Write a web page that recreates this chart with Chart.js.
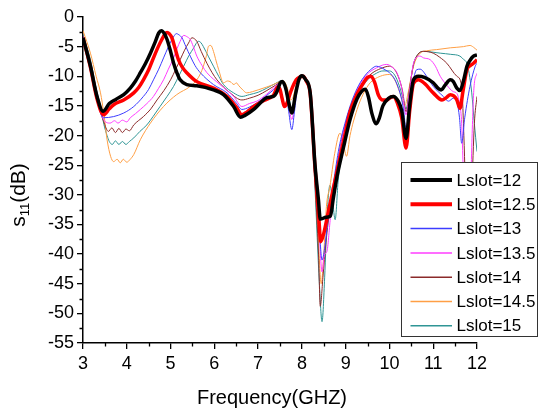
<!DOCTYPE html>
<html>
<head>
<meta charset="utf-8">
<script src="https://cdn.jsdelivr.net/npm/chart.js@4.4.1/dist/chart.umd.min.js"></script>
<style>
  html, body { margin: 0; padding: 0; background: #ffffff; }
  #wrap { width: 539px; height: 413px; }
</style>
</head>
<body>
<div id="wrap"><canvas id="c" width="539" height="413"></canvas></div>
<script>
// Return loss s11 (dB) versus frequency (GHz) for several slot lengths.
const seriesLabels = ['Lslot=12', 'Lslot=12.5', 'Lslot=13', 'Lslot=13.5', 'Lslot=14', 'Lslot=14.5', 'Lslot=15'];

// [frequency GHz, s11 dB]
const lslot12 = [[3.0,-3.5],[3.17,-8.3],[3.32,-13.4],[3.46,-15.9],[3.6,-14.6],[3.75,-13.9],[3.93,-13.1],[4.08,-12.0],[4.2,-10.8],[4.31,-9.4],[4.43,-7.8],[4.54,-6.1],[4.65,-4.2],[4.73,-2.7],[4.79,-2.3],[4.86,-2.8],[4.92,-3.8],[5.0,-5.8],[5.07,-7.8],[5.15,-9.5],[5.22,-10.6],[5.37,-11.4],[5.6,-11.6],[5.98,-12.3],[6.21,-13.1],[6.44,-15.1],[6.6,-16.9],[6.7,-16.6],[6.9,-15.6],[7.05,-14.5],[7.2,-13.6],[7.35,-13.4],[7.43,-12.6],[7.5,-11.2],[7.55,-10.9],[7.63,-12.0],[7.7,-14.5],[7.77,-16.2],[7.85,-13.2],[7.93,-10.6],[8.0,-9.9],[8.08,-10.5],[8.19,-12.8],[8.3,-25.0],[8.38,-31.0],[8.42,-34.1],[8.55,-33.8],[8.65,-33.6],[8.72,-30.5],[8.8,-27.0],[8.95,-22.0],[9.1,-17.3],[9.26,-13.8],[9.37,-12.5],[9.45,-12.2],[9.52,-13.5],[9.6,-16.3],[9.7,-18.0],[9.77,-17.0],[9.85,-15.0],[9.98,-13.7],[10.09,-13.4],[10.2,-14.2],[10.28,-15.8],[10.38,-20.5],[10.46,-15.0],[10.55,-10.6],[10.66,-10.0],[10.8,-10.2],[11.0,-11.1],[11.12,-12.1],[11.18,-12.3],[11.28,-11.4],[11.39,-10.6],[11.46,-10.9],[11.54,-12.0],[11.61,-12.4],[11.7,-10.5],[11.77,-8.3],[11.85,-7.2],[11.92,-6.6],[12.0,-6.4]];

const lslot12_5 = [[3.0,-3.5],[3.17,-8.5],[3.32,-13.8],[3.47,-16.5],[3.6,-15.5],[3.7,-14.8],[3.93,-14.0],[4.16,-12.8],[4.28,-11.8],[4.38,-10.6],[4.5,-8.9],[4.61,-6.9],[4.72,-5.0],[4.8,-3.8],[4.87,-2.9],[4.92,-2.6],[4.97,-2.8],[5.03,-3.5],[5.1,-5.2],[5.18,-7.2],[5.27,-8.5],[5.37,-9.4],[5.6,-10.9],[5.98,-12.0],[6.29,-13.4],[6.5,-15.2],[6.63,-16.5],[6.75,-16.0],[6.9,-15.1],[7.1,-14.2],[7.35,-13.2],[7.45,-11.8],[7.5,-12.2],[7.55,-13.8],[7.6,-15.1],[7.66,-14.5],[7.75,-12.5],[7.87,-10.6],[7.96,-10.1],[8.03,-10.0],[8.1,-10.8],[8.19,-13.0],[8.3,-25.5],[8.38,-33.0],[8.43,-37.9],[8.5,-36.5],[8.6,-33.0],[8.76,-27.5],[8.95,-21.0],[9.1,-16.0],[9.26,-13.0],[9.4,-11.2],[9.5,-10.2],[9.58,-10.0],[9.66,-11.0],[9.75,-13.2],[9.85,-14.0],[9.94,-14.0],[10.02,-13.6],[10.09,-13.4],[10.18,-14.5],[10.28,-17.0],[10.38,-22.1],[10.46,-16.0],[10.55,-11.2],[10.66,-10.6],[10.8,-11.2],[11.0,-12.8],[11.2,-14.0],[11.3,-13.6],[11.39,-13.1],[11.47,-13.3],[11.54,-14.0],[11.61,-15.4],[11.68,-12.5],[11.77,-8.9],[11.85,-8.2],[11.92,-7.8],[12.0,-7.2]];

const lslot13 = [[3.0,-3.4],[3.17,-8.6],[3.32,-14.0],[3.47,-17.0],[3.7,-16.8],[3.93,-16.2],[4.16,-15.1],[4.38,-13.4],[4.5,-12.2],[4.61,-10.6],[4.73,-8.8],[4.84,-6.9],[4.94,-5.2],[5.03,-3.8],[5.09,-3.1],[5.13,-2.8],[5.19,-3.0],[5.26,-3.5],[5.35,-5.0],[5.45,-6.6],[5.56,-8.2],[5.68,-9.4],[5.98,-11.4],[6.29,-12.8],[6.5,-14.5],[6.63,-15.6],[6.8,-15.2],[6.97,-14.5],[7.2,-13.2],[7.35,-12.3],[7.5,-11.1],[7.56,-11.0],[7.63,-12.5],[7.7,-16.0],[7.77,-19.0],[7.83,-16.0],[7.9,-11.8],[7.96,-10.4],[8.03,-10.0],[8.1,-10.7],[8.19,-13.0],[8.3,-26.0],[8.4,-36.0],[8.46,-41.0],[8.52,-39.0],[8.6,-34.0],[8.72,-28.0],[8.85,-22.0],[9.0,-17.5],[9.15,-14.0],[9.3,-11.5],[9.45,-9.8],[9.6,-8.7],[9.7,-8.3],[9.8,-8.5],[9.9,-8.9],[10.0,-9.4],[10.12,-10.5],[10.24,-12.8],[10.32,-15.5],[10.38,-19.0],[10.46,-14.5],[10.55,-10.5],[10.62,-8.9],[10.7,-8.8],[10.85,-10.0],[11.0,-11.7],[11.23,-13.4],[11.35,-14.2],[11.46,-13.7],[11.54,-14.3],[11.6,-17.0],[11.65,-21.3],[11.72,-17.0],[11.84,-11.7],[11.96,-8.3],[12.0,-7.8]];

const lslot13_5 = [[3.0,-3.3],[3.17,-8.6],[3.32,-14.2],[3.47,-17.3],[3.62,-17.9],[3.72,-17.5],[3.8,-17.9],[3.9,-17.4],[4.0,-17.7],[4.08,-17.0],[4.2,-16.3],[4.31,-15.6],[4.46,-14.6],[4.61,-13.4],[4.72,-12.1],[4.84,-10.6],[4.95,-8.8],[5.07,-6.9],[5.15,-5.3],[5.22,-4.1],[5.3,-3.1],[5.37,-3.3],[5.45,-3.8],[5.52,-5.0],[5.6,-6.6],[5.72,-8.2],[5.83,-9.4],[6.13,-11.4],[6.44,-13.4],[6.63,-15.1],[6.8,-14.6],[6.97,-14.2],[7.2,-13.0],[7.35,-12.0],[7.5,-11.0],[7.56,-10.8],[7.63,-12.0],[7.7,-15.0],[7.77,-17.3],[7.84,-14.5],[7.92,-11.0],[8.0,-10.1],[8.08,-10.6],[8.19,-13.0],[8.3,-26.5],[8.4,-37.0],[8.46,-43.0],[8.52,-40.0],[8.57,-39.6],[8.65,-34.0],[8.75,-28.0],[8.88,-22.0],[9.0,-18.0],[9.15,-14.3],[9.3,-11.7],[9.5,-9.6],[9.7,-8.6],[9.85,-8.1],[9.94,-8.0],[10.05,-8.4],[10.17,-9.4],[10.28,-12.0],[10.38,-16.5],[10.46,-12.5],[10.55,-7.8],[10.7,-6.6],[10.78,-6.9],[10.93,-7.2],[11.05,-8.3],[11.16,-10.0],[11.31,-11.5],[11.46,-12.6],[11.54,-12.9],[11.61,-15.0],[11.65,-18.0],[11.7,-30.0],[11.76,-48.0],[11.82,-40.0],[11.88,-22.0],[11.93,-12.0],[12.0,-9.5]];

const lslot14 = [[3.0,-3.2],[3.17,-8.0],[3.32,-14.0],[3.47,-17.6],[3.58,-19.3],[3.66,-18.7],[3.74,-19.5],[3.82,-18.8],[3.9,-19.5],[3.98,-18.9],[4.06,-19.2],[4.16,-18.2],[4.38,-16.8],[4.55,-15.5],[4.69,-14.0],[4.85,-12.4],[5.0,-10.6],[5.12,-8.8],[5.22,-7.2],[5.32,-5.6],[5.41,-4.4],[5.49,-3.5],[5.55,-3.7],[5.6,-4.1],[5.7,-5.8],[5.83,-7.8],[5.95,-9.4],[6.06,-10.6],[6.36,-12.8],[6.63,-14.0],[6.8,-13.7],[7.0,-13.2],[7.2,-12.4],[7.4,-11.5],[7.55,-10.8],[7.63,-11.8],[7.7,-14.0],[7.77,-16.3],[7.84,-14.0],[7.92,-10.9],[8.0,-10.1],[8.08,-10.6],[8.19,-13.2],[8.3,-28.0],[8.38,-40.0],[8.42,-48.8],[8.48,-44.0],[8.55,-38.0],[8.65,-32.0],[8.78,-26.0],[8.9,-21.0],[9.05,-16.5],[9.2,-13.5],[9.4,-11.0],[9.6,-9.5],[9.8,-8.7],[10.0,-8.3],[10.1,-8.7],[10.2,-10.0],[10.3,-12.5],[10.38,-16.0],[10.46,-12.0],[10.55,-8.0],[10.65,-6.3],[10.78,-5.8],[11.0,-6.1],[11.15,-6.8],[11.31,-7.8],[11.54,-10.0],[11.65,-11.7],[11.7,-20.0],[11.76,-35.0],[11.82,-45.0],[11.88,-30.0],[11.94,-18.0],[12.0,-13.4]];

const lslot14_5 = [[3.0,-2.3],[3.17,-6.1],[3.3,-10.0],[3.4,-12.8],[3.48,-16.5],[3.55,-20.7],[3.63,-23.5],[3.7,-24.4],[3.78,-24.0],[3.85,-24.6],[3.92,-24.0],[4.0,-24.5],[4.08,-24.0],[4.16,-23.2],[4.31,-20.7],[4.54,-17.9],[4.84,-15.1],[5.14,-13.1],[5.45,-11.7],[5.6,-10.6],[5.68,-9.6],[5.75,-8.3],[5.82,-6.5],[5.87,-4.9],[5.92,-4.8],[5.98,-5.8],[6.04,-7.4],[6.1,-8.9],[6.21,-11.1],[6.3,-10.8],[6.36,-10.9],[6.45,-11.4],[6.5,-11.1],[6.56,-11.6],[6.65,-12.3],[6.74,-12.8],[6.87,-12.6],[7.0,-12.3],[7.2,-11.8],[7.35,-11.4],[7.5,-10.9],[7.58,-10.8],[7.66,-11.8],[7.74,-14.0],[7.8,-13.5],[7.88,-11.2],[7.96,-10.3],[8.03,-10.2],[8.1,-11.0],[8.2,-14.0],[8.3,-27.0],[8.38,-38.0],[8.44,-45.0],[8.5,-40.0],[8.56,-32.0],[8.64,-28.6],[8.75,-23.0],[8.87,-19.6],[8.95,-21.5],[9.02,-23.5],[9.1,-20.0],[9.26,-15.6],[9.4,-13.0],[9.56,-11.1],[9.79,-10.0],[10.0,-9.7],[10.12,-10.6],[10.24,-12.8],[10.35,-15.0],[10.42,-13.0],[10.55,-8.3],[10.7,-6.1],[10.85,-5.7],[11.08,-5.5],[11.39,-5.2],[11.69,-5.0],[11.84,-4.8],[11.92,-5.1],[12.0,-5.6]];

const lslot15 = [[3.0,-3.0],[3.17,-7.2],[3.3,-12.0],[3.4,-15.1],[3.48,-18.2],[3.55,-20.0],[3.6,-21.0],[3.67,-21.5],[3.74,-20.9],[3.82,-21.5],[3.9,-21.0],[3.98,-21.5],[4.06,-21.0],[4.16,-20.4],[4.3,-19.3],[4.46,-18.2],[4.6,-16.8],[4.76,-15.1],[4.92,-13.4],[5.07,-11.7],[5.2,-9.8],[5.3,-8.3],[5.42,-6.5],[5.53,-5.2],[5.6,-4.3],[5.64,-4.1],[5.69,-4.3],[5.75,-5.0],[5.86,-6.6],[5.98,-8.3],[6.1,-10.0],[6.21,-11.4],[6.44,-12.8],[6.63,-13.4],[6.8,-13.1],[7.0,-12.7],[7.2,-12.0],[7.4,-11.2],[7.55,-10.7],[7.63,-11.5],[7.7,-13.5],[7.77,-15.5],[7.84,-13.5],[7.92,-10.8],[8.0,-10.1],[8.08,-10.6],[8.19,-13.3],[8.3,-29.0],[8.4,-45.0],[8.46,-51.4],[8.52,-44.0],[8.58,-33.0],[8.64,-28.4],[8.7,-31.0],[8.76,-34.2],[8.83,-27.5],[8.95,-21.5],[9.1,-16.5],[9.3,-12.8],[9.5,-10.6],[9.7,-9.5],[9.85,-9.1],[10.0,-9.1],[10.12,-9.8],[10.22,-11.5],[10.3,-13.5],[10.38,-15.5],[10.46,-12.0],[10.55,-8.0],[10.65,-6.3],[10.78,-5.8],[11.16,-6.1],[11.4,-6.3],[11.61,-6.6],[11.7,-7.2],[11.77,-7.8],[11.82,-9.5],[11.88,-12.8],[11.94,-18.0],[12.0,-22.7]];

const seriesData = [lslot12, lslot12_5, lslot13, lslot13_5, lslot14, lslot14_5, lslot15];
const seriesColors = ['#000000', '#ff0000', '#3c3cff', '#ff3cff', '#8b2a2a', '#ff9f45', '#2f9595'];
const seriesWidths = [3.5, 3.5, 1, 1, 1, 1, 1];

const xTickValues = [3, 4, 5, 6, 7, 8, 9, 10, 11, 12];
const yTickValues = [0, -5, -10, -15, -20, -25, -30, -35, -40, -45, -50, -55];

const xTitle = 'Frequency(GHZ)';

const FONT = '"Liberation Sans", Arial, sans-serif';

// Minor ticks, axis titles and the boxed legend
const decorations = {
  id: 'decorations',
  afterDraw(chart) {
    const ctx = chart.ctx;
    const xs = chart.scales.x, ys = chart.scales.y;
    const area = chart.chartArea;
    ctx.save();
    ctx.strokeStyle = '#000';
    ctx.lineWidth = 1.3;
    ctx.beginPath();
    for (let v = 3.5; v < 12; v += 1) {
      const px = Math.round(xs.getPixelForValue(v)) + 0.5;
      ctx.moveTo(px, area.bottom);
      ctx.lineTo(px, area.bottom + 3.5);
    }
    for (let v = -2.5; v > -55; v -= 5) {
      const py = Math.round(ys.getPixelForValue(v)) + 0.5;
      ctx.moveTo(area.left, py);
      ctx.lineTo(area.left - 3.5, py);
    }
    ctx.stroke();

    // x-axis title
    ctx.fillStyle = '#000';
    ctx.font = '20px ' + FONT;
    ctx.textAlign = 'center';
    ctx.textBaseline = 'alphabetic';
    ctx.fillText(xTitle, 272, 404);

    // y-axis title with subscript
    ctx.save();
    ctx.translate(25, 195);
    ctx.rotate(-Math.PI / 2);
    ctx.textAlign = 'left';
    const mainFont = '21px ' + FONT, subFont = '13px ' + FONT;
    ctx.font = mainFont;
    const wS = ctx.measureText('s').width;
    const wTail = ctx.measureText('(dB)').width;
    ctx.font = subFont;
    const wSub = ctx.measureText('11').width;
    let u = -(wS + wSub + wTail) / 2;
    ctx.font = mainFont;
    ctx.fillText('s', u, 0); u += wS;
    ctx.font = subFont;
    ctx.fillText('11', u, 4); u += wSub;
    ctx.font = mainFont;
    ctx.fillText('(dB)', u, 0);
    ctx.restore();

    // legend
    const lx = 401.5, ly = 162.5, lw = 136, lh = 174;
    ctx.fillStyle = '#fff';
    ctx.fillRect(lx, ly, lw, lh);
    ctx.strokeStyle = '#333';
    ctx.lineWidth = 1;
    ctx.strokeRect(lx, ly, lw, lh);
    ctx.font = '17px ' + FONT;
    ctx.textAlign = 'left';
    ctx.textBaseline = 'middle';
    chart.data.datasets.forEach((ds, i) => {
      const y = 180 + i * 24.3;
      ctx.strokeStyle = ds.borderColor;
      ctx.lineWidth = i < 2 ? 4 : 1.5;
      ctx.beginPath();
      ctx.moveTo(410.5, y);
      ctx.lineTo(452, y);
      ctx.stroke();
      ctx.fillStyle = '#000';
      ctx.fillText(ds.label, 456.5, y + 1);
    });
    ctx.restore();
  }
};

new Chart(document.getElementById('c'), {
  type: 'line',
  data: {
    datasets: seriesData.map((arr, i) => ({
      label: seriesLabels[i],
      data: arr.map(([f, d]) => ({ x: f, y: d })),
      borderColor: seriesColors[i],
      borderWidth: seriesWidths[i],
      pointRadius: 0,
      fill: false,
      cubicInterpolationMode: 'monotone'
    }))
  },
  options: {
    responsive: false,
    animation: false,
    devicePixelRatio: 1,
    layout: { padding: { top: 17, right: 62, left: 0, bottom: 0 } },
    plugins: { legend: { display: false }, tooltip: { enabled: false } },
    scales: {
      x: {
        type: 'linear',
        min: 3, max: 12,
        afterBuildTicks: (s) => { s.ticks = xTickValues.map(v => ({ value: v })); },
        afterFit: (s) => { s.height = 70; },
        ticks: { font: { size: 18, family: FONT }, color: '#000', padding: 4, autoSkip: false, maxRotation: 0 },
        grid: { drawOnChartArea: false, drawTicks: true, tickLength: 6, color: '#000', lineWidth: 1.3 },
        border: { display: true, color: '#000', width: 1.5 }
      },
      y: {
        type: 'linear',
        min: -55, max: 0,
        afterBuildTicks: (s) => { s.ticks = yTickValues.map(v => ({ value: v })); },
        afterFit: (s) => { s.width = 83; },
        ticks: { font: { size: 18, family: FONT }, color: '#000', padding: 3, autoSkip: false },
        grid: { drawOnChartArea: false, drawTicks: true, tickLength: 6, color: '#000', lineWidth: 1.3 },
        border: { display: true, color: '#000', width: 1.5 }
      }
    }
  },
  plugins: [decorations]
});
</script>
</body>
</html>
